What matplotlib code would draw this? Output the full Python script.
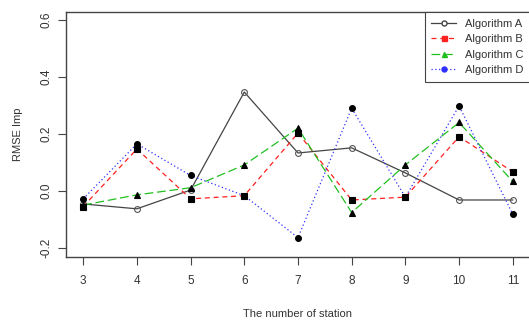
import matplotlib
matplotlib.use("Agg")
import matplotlib.pyplot as plt
from matplotlib.lines import Line2D

stations = [3, 4, 5, 6, 7, 8, 9, 10, 11]
alg_a = [-0.046, -0.063, 0.003, 0.347, 0.133, 0.151, 0.063, -0.032, -0.032]
alg_b = [-0.055, 0.147, -0.028, -0.017, 0.203, -0.032, -0.022, 0.190, 0.067]
alg_c = [-0.050, -0.014, 0.011, 0.091, 0.220, -0.076, 0.091, 0.240, 0.033]
alg_d = [-0.028, 0.165, 0.054, -0.017, -0.164, 0.290, -0.022, 0.298, -0.082]
names = ["Algorithm A", "Algorithm B", "Algorithm C", "Algorithm D"]

plt.rcParams["font.family"] = ["Liberation Sans", "DejaVu Sans"]
txt = "#333333"

fig = plt.figure(figsize=(5.29, 3.2), dpi=100)
ax = fig.add_axes([0.1248, 0.197, 0.877, 0.7656])

styles = [
    (alg_a, "#444444", "-", "o", "none"),
    (alg_b, "#ff2020", (0, (4, 3)), "s", "black"),
    (alg_c, "#20c020", (0, (7, 3)), "^", "black"),
    (alg_d, "#3030ff", (0, (1, 2)), "o", "black"),
]
handles = []
for (vals, col, ls, mk, face), name in zip(styles, names):
    ax.plot(stations, vals, color=col, linestyle=ls, linewidth=0.9, zorder=2)
    ax.plot(stations, vals, linestyle="none", marker=mk, markersize=4.2,
            markerfacecolor=face, markeredgecolor="black" if face != "none" else "#555555",
            markeredgewidth=0.8, zorder=3)
    handles.append(Line2D([], [], color=col, linestyle=ls, linewidth=0.9, marker=mk,
                          markersize=3.6,
                          markerfacecolor=col if face != "none" else "white",
                          markeredgecolor=col))

ax.set_xlim(2.68, 11.32)
ax.set_ylim(-0.232, 0.628)
ax.set_xticks(stations)
ax.set_yticks([-0.2, 0.0, 0.2, 0.4, 0.6])
ax.set_yticklabels(["-0.2", "0.0", "0.2", "0.4", "0.6"], rotation=90, va="center")
ax.tick_params(direction="out", length=6, width=0.8, color="#444444",
               labelcolor=txt, labelsize=8.5)
ax.tick_params(axis="x", pad=7)
ax.tick_params(axis="y", pad=4)
for s in ax.spines.values():
    s.set_color("#444444")
    s.set_linewidth(1.0)

ax.set_xlabel("The number of station", fontsize=8, color=txt, labelpad=16)
ax.set_ylabel("RMSE Imp", fontsize=8, color=txt, labelpad=12)

leg = ax.legend(handles, names, loc="upper right", bbox_to_anchor=(1.0, 1.0),
                borderaxespad=0, fancybox=False, fontsize=8, handlelength=2.2,
                handletextpad=0.8, labelspacing=0.5, borderpad=0.6,
                framealpha=1, edgecolor="#444444")
leg.get_frame().set_linewidth(0.8)
for t in leg.get_texts():
    t.set_color(txt)

fig.savefig("out.png", dpi=100)
